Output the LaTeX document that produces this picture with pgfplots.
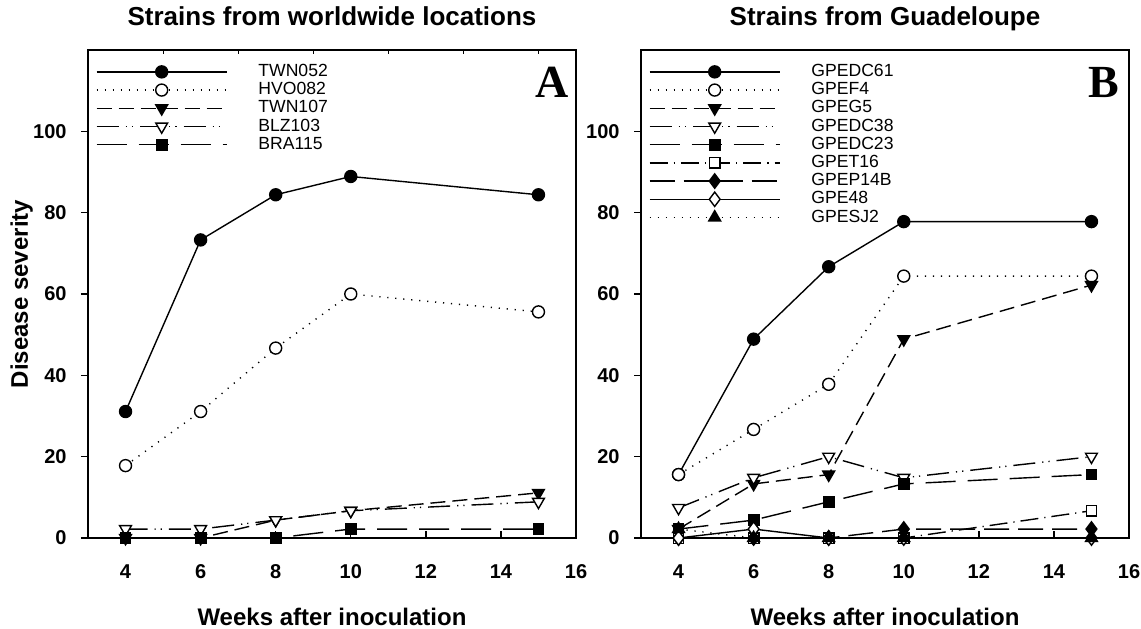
\documentclass[border=0pt]{standalone}
\usepackage{fontspec}
\setmainfont{Liberation Sans}
\newfontfamily\timesfont{Liberation Serif}
\usepackage{pgfplots}
\pgfplotsset{compat=1.18}

\tikzset{
  dotl/.style={dash pattern=on 0.6pt off 3.4pt},
  dashl/.style={dash pattern=on 7.5pt off 3.5pt},
  dashdd/.style={dash pattern=on 11pt off 3.5pt on 0.6pt off 2.5pt on 0.6pt off 3.5pt},
  longdash/.style={dash pattern=on 15pt off 6pt},
  dashdot/.style={dash pattern=on 9pt off 3pt on 0.6pt off 3pt},
  longdash2/.style={dash pattern=on 12.5pt off 4.5pt},
}

\pgfplotsset{
  panel/.style={
    scale only axis, width=244pt, height=244pt,
    xmin=3, xmax=16, ymin=0, ymax=120,
    xtick={4,6,...,16}, ytick={0,20,...,100},
    xtick pos=bottom, ytick pos=left,
    xtick align=inside, ytick align=outside,
    major tick length=3.5pt,
    axis line style={line width=0.8pt},
    tick style={line width=0.7pt, black},
    clip=false,
    /pgf/number format/assume math mode=true,
    ticklabel style={font=\fontsize{10}{12}\selectfont\bfseries},
    xticklabel style={anchor=base, yshift=-20pt},
    yticklabel style={anchor=east, inner sep=0pt, xshift=-7pt},
    title style={at={(0.5,1)}, anchor=base, yshift=6.5pt, font=\fontsize{13}{15}\selectfont\bfseries},
    xlabel style={at={(axis description cs:0.5,-0.180)}, anchor=base, font=\fontsize{12}{14}\selectfont\bfseries},
    legend cell align=left,
    legend style={draw=none, fill=none, at={(0.0164,0.972)}, anchor=north west,
      inner sep=0pt, outer sep=0pt, row sep=0.9pt,
      font=\fontsize{8.8}{9}\selectfont,
      nodes={inner sep=0pt, text height=6.4pt, text depth=1.8pt}},
    legend image code/.code={
      \draw[mark repeat=2, mark phase=2] plot coordinates {(0pt,0pt) (32.5pt,0pt) (65pt,0pt)};
      \path (80.5pt,0pt);},
    every axis plot/.append style={line width=0.7pt, black},
  },
  fcirc/.style={mark=*, mark size=3pt, mark options={solid, fill=black}},
  ocirc/.style={mark=*, mark size=3pt, mark options={solid, fill=white}},
  ftridown/.style={mark=triangle*, mark size=3.4pt, mark options={solid, fill=black, rotate=180}},
  otridown/.style={mark=triangle*, mark size=3.4pt, mark options={solid, fill=white, rotate=180}},
  fsq/.style={mark=square*, mark size=2.6pt, mark options={solid, fill=black}},
  osq/.style={mark=square*, mark size=2.6pt, mark options={solid, fill=white}},
  fdia/.style={mark=diamond*, mark size=3.6pt, mark options={solid, fill=black}},
  odia/.style={mark=diamond*, mark size=3.6pt, mark options={solid, fill=white}},
  ftriup/.style={mark=triangle*, mark size=3.4pt, mark options={solid, fill=black}},
}

\begin{document}
\begin{tikzpicture}
\useasboundingbox (-44pt,-45pt) rectangle (526.5pt,269pt);

% panel A
\begin{axis}[panel, at={(0pt,0pt)},
  title={Strains from worldwide locations},
  xlabel={Weeks after inoculation},
  ylabel={Disease severity},
  ylabel style={at={(axis description cs:-0.123,0.5)}, rotate=0, anchor=base, font=\fontsize{12}{14}\selectfont\bfseries},
]
\addplot[solid, fcirc] coordinates {(4,31.1) (6,73.3) (8,84.4) (10,88.9) (15,84.4)};
\addplot[dotl, ocirc] coordinates {(4,17.8) (6,31.1) (8,46.7) (10,60.0) (15,55.6)};
\addplot[dashl, ftridown] coordinates {(4,0) (6,0) (8,4.4) (10,6.7) (15,11.1)};
\addplot[dashdd, otridown] coordinates {(4,2.2) (6,2.2) (8,4.4) (10,6.7) (15,8.9)};
\addplot[longdash, fsq] coordinates {(4,0) (6,0) (8,0) (10,2.2) (15,2.2)};
\legend{TWN052,HVO082,TWN107,BLZ103,BRA115}
\node[font=\timesfont\bfseries\fontsize{23}{23}\selectfont] at (rel axis cs:0.951,0.934) {A};
\end{axis}

% small ticks on the top border of panel A
\begin{axis}[at={(0pt,0pt)}, scale only axis, width=244pt, height=244pt,
  xmin=3, xmax=16, ymin=0, ymax=120,
  axis y line=none, axis x line*=top,
  axis line style={line width=0.8pt, -},
  xtick={5,7,...,15}, xticklabels={},
  xtick align=inside, major tick length=2pt, tick style={line width=0.5pt, black}]
\end{axis}

% panel B
\begin{axis}[panel, at={(276.5pt,0pt)},
  title={Strains from Guadeloupe},
  xlabel={Weeks after inoculation},
]
\addplot[solid, fcirc] coordinates {(4,15.6) (6,48.9) (8,66.7) (10,77.8) (15,77.8)};
\addplot[dotl, ocirc] coordinates {(4,15.6) (6,26.7) (8,37.8) (10,64.4) (15,64.4)};
\addplot[dashl, ftridown] coordinates {(4,2.2) (6,13.3) (8,15.6) (10,48.9) (15,62.2)};
\addplot[dashdd, otridown] coordinates {(4,7.4) (6,14.8) (8,20.0) (10,14.8) (15,20.0)};
\addplot[longdash, fsq] coordinates {(4,2.2) (6,4.4) (8,8.9) (10,13.3) (15,15.6)};
\addplot[dashdot, osq] coordinates {(4,0) (6,0) (8,0) (10,0) (15,6.7)};
\addplot[longdash2, fdia] coordinates {(4,0) (6,0) (8,0) (10,2.2) (15,2.2)};
\addplot[solid, odia] coordinates {(4,0) (6,2.2) (8,0) (10,0) (15,0)};
\addplot[dotl, ftriup] coordinates {(4,2.2) (6,0) (8,0) (10,0) (15,0)};
\legend{GPEDC61,GPEF4,GPEG5,GPEDC38,GPEDC23,GPET16,GPEP14B,GPE48,GPESJ2}
\node[font=\timesfont\bfseries\fontsize{23}{23}\selectfont] at (rel axis cs:0.949,0.934) {B};
\end{axis}
\end{tikzpicture}
\end{document}
